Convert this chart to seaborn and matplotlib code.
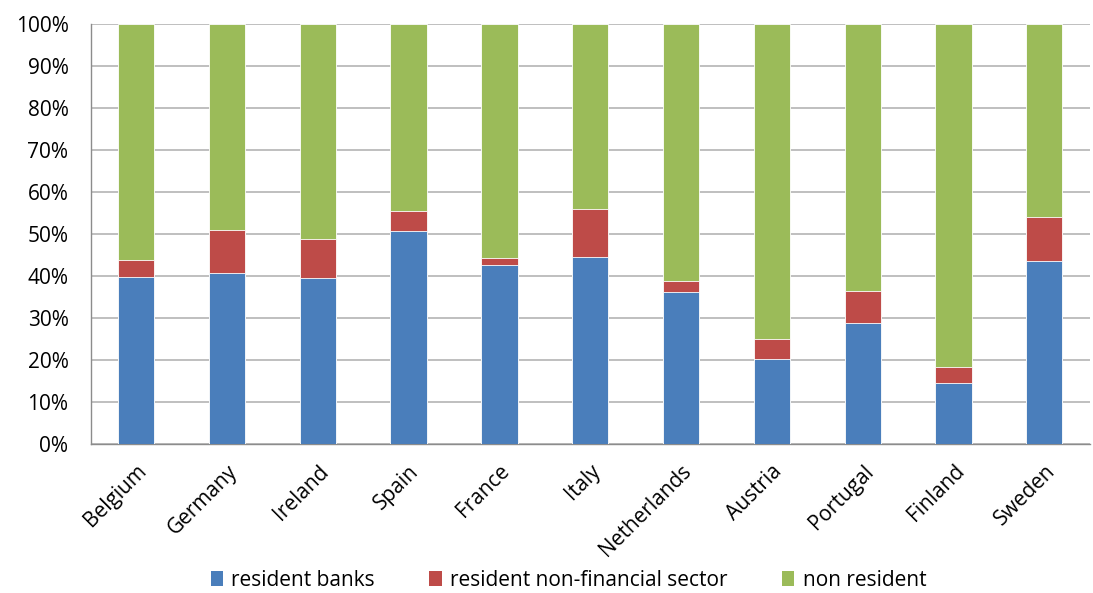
import numpy as np
import pandas as pd
import seaborn as sns
import matplotlib.pyplot as plt
from matplotlib.patches import Patch
from matplotlib.ticker import PercentFormatter, FixedLocator

countries = ["Belgium", "Germany", "Ireland", "Spain", "France", "Italy",
             "Netherlands", "Austria", "Portugal", "Finland", "Sweden"]
resident_banks = [39.7, 40.7, 39.5, 50.6, 42.7, 44.4, 36.1, 20.2, 28.8, 14.6, 43.5]
resident_nonfin = [4.0, 10.3, 9.4, 4.9, 1.5, 11.6, 2.8, 4.9, 7.6, 3.7, 10.5]
non_resident = [100 - b - n for b, n in zip(resident_banks, resident_nonfin)]

series = ["resident banks", "resident non-financial sector", "non resident"]
colors = ["#4A7EBB", "#BE4B48", "#9BBB59"]

sns.set_style("white")
plt.rcParams["font.family"] = ["Open Sans", "DejaVu Sans"]
plt.rcParams["text.color"] = "black"
plt.rcParams["xtick.color"] = "black"
plt.rcParams["ytick.color"] = "black"

df = pd.DataFrame({"country": countries,
                   "banks": resident_banks,
                   "nonfin": resident_nonfin,
                   "nonres": non_resident})
df["cum_nonfin"] = df["banks"] + df["nonfin"]
df["cum_total"] = df["cum_nonfin"] + df["nonres"]

fig = plt.figure(figsize=(10.93, 5.93), dpi=100)
ax = fig.add_axes([0.083, 0.251, 0.914, 0.709])

# stacked bars drawn as cumulative overlays, top layer first
for col, color in zip(["cum_total", "cum_nonfin", "banks"], colors[::-1]):
    sns.barplot(data=df, x="country", y=col, color=color, width=0.4,
                saturation=1, ax=ax, zorder=3, linewidth=0.6)

ax.set_ylim(0, 100)
ax.set_xlim(-0.5, len(countries) - 0.5)
ax.yaxis.set_major_locator(FixedLocator(np.arange(0, 101, 10)))
ax.yaxis.set_major_formatter(PercentFormatter(decimals=0))
ax.grid(axis="y", color="#b4b4b4", linewidth=1.2, zorder=0)
ax.set_axisbelow(True)

for s in ["top", "right"]:
    ax.spines[s].set_visible(False)
for s in ["left", "bottom"]:
    ax.spines[s].set_color("#8c8c8c")
    ax.spines[s].set_linewidth(1.0)

ax.set_xlabel("")
ax.set_ylabel("")
ax.tick_params(axis="y", length=6, color="#8c8c8c", labelsize=15, pad=10)
ax.tick_params(axis="x", which="major", length=0, labelsize=15, pad=12)
ax.set_xticks(np.arange(-0.5, len(countries), 1), minor=True)
ax.tick_params(axis="x", which="minor", length=6, color="#8c8c8c")
plt.setp(ax.get_xticklabels(), rotation=45, ha="right", rotation_mode="anchor")

handles = [Patch(facecolor=c, edgecolor="none") for c in colors]
fig.legend(handles, series, loc="lower center", ncol=3, frameon=False,
           bbox_to_anchor=(0.52, -0.028), fontsize=15, handlelength=0.6,
           handleheight=0.7, columnspacing=2.6, handletextpad=0.4)

fig.savefig("out.png", dpi=100)
plt.close(fig)
